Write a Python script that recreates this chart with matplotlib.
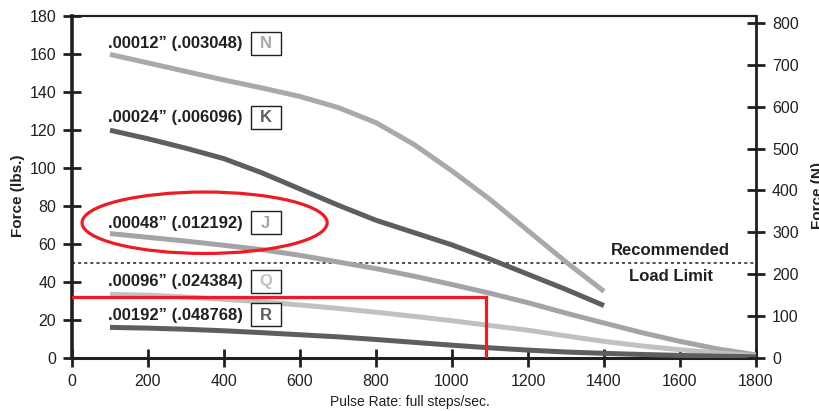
import matplotlib.pyplot as plt
from matplotlib.patches import Ellipse, Rectangle

plt.rcParams['font.family'] = ['Liberation Sans', 'DejaVu Sans']

# pulse rate (full steps/sec) and force (lbs) per step size
x_short = [100, 200, 300, 400, 500, 600, 700, 800, 900, 1000, 1100, 1200, 1300, 1400]
x_long = x_short + [1500, 1600, 1700, 1800]

force_n = [160, 155.5, 151, 146.5, 142.3, 137.8, 132, 124, 112.5, 98.5, 83.5, 67, 50.5, 35]
force_k = [120, 115.5, 110.5, 105, 97.5, 89, 80.5, 72.5, 66, 59.5, 52, 44, 36, 27.5]
force_j = [65.5, 63.5, 61.5, 59.3, 57, 54, 50.5, 47, 43, 38.6, 34, 29, 23.5, 18.3, 13.2, 8.6, 4.6, 1.5]
force_q = [33.4, 33, 32, 30.8, 29.5, 27.8, 26, 24, 21.8, 19.5, 17, 14.5, 11.5, 8.6, 6.2, 4.2, 2.5, 1]
force_r = [16, 15.6, 15, 14.2, 13.2, 12.1, 11, 9.6, 8.1, 6.6, 5.2, 4, 3, 2.3, 1.7, 1.2, 0.8, 0.5]

step_labels = ['.00012\u201d (.003048)', '.00024\u201d (.006096)', '.00048\u201d (.012192)',
               '.00096\u201d (.024384)', '.00192\u201d (.048768)']
step_letters = ['N', 'K', 'J', 'Q', 'R']
label_y = [165.5, 126.5, 71, 40, 22.5]

load_limit = 50
op_rate = 1090
op_force = 32

ink = '#231f20'
red = '#ed1c24'
colors = ['#a7a9ac', '#5d5e60', '#a2a4a7', '#bfc1c3', '#5d5e60']

fig = plt.figure(figsize=(8.2, 4.11), dpi=100)
ax = fig.add_axes([72 / 820, (411 - 357.7) / 411, 684 / 820, (357.7 - 16.5) / 411])

series = [(x_short, force_n), (x_short, force_k), (x_long, force_j), (x_long, force_q), (x_long, force_r)]
for (xs, ys), c in zip(series, colors):
    ax.plot(xs, ys, color=c, lw=3.6, solid_capstyle='butt', solid_joinstyle='round', zorder=3)

# box size in data units (about 31 x 23 px)
box_w, box_h = 80, 12
for txt, letter, y, c in zip(step_labels, step_letters, label_y, colors):
    ax.text(95, y, txt, fontsize=12, fontweight='bold', color=ink, ha='left', va='center', zorder=5)
    ax.add_patch(Rectangle((510 - box_w / 2, y - box_h / 2 + 0.3), box_w, box_h,
                           fc='white', ec=ink, lw=1, zorder=4))
    ax.text(510, y, letter, fontsize=12, fontweight='bold', color=c, ha='center', va='center', zorder=5)

ax.axhline(load_limit, color=ink, lw=1.1, ls=(0, (2, 2)), zorder=2)
ax.text(1574, 56.3, 'Recommended', fontsize=12, fontweight='bold', color=ink, ha='center', va='center')
ax.text(1577, 43, 'Load Limit', fontsize=12, fontweight='bold', color=ink, ha='center', va='center')

ax.plot([0, op_rate], [op_force, op_force], color=red, lw=2.3, zorder=6)
ax.plot([op_rate, op_rate], [0, op_force], color=red, lw=2.3, zorder=6)
ax.add_patch(Ellipse((349, 71.2), 645, 32.4, fill=False, ec=red, lw=2.3, zorder=6))

ax.set_xlim(0, 1800)
ax.set_ylim(0, 180)
ax.set_xticks(range(0, 1801, 200))
ax.set_yticks(range(0, 181, 20))
ax.tick_params(direction='inout', length=13, width=2, color=ink, labelsize=11.5, labelcolor=ink, pad=5)
ax.spines['left'].set_linewidth(2.6)
ax.spines['bottom'].set_linewidth(2.2)
ax.spines['top'].set_linewidth(1.6)
ax.spines['right'].set_linewidth(2.0)
for s in ax.spines.values():
    s.set_color(ink)

ax2 = ax.twinx()
ax2.set_ylim(0, 816)
ax2.set_yticks(range(0, 801, 100))
ax2.tick_params(direction='inout', length=13, width=2, color=ink, labelsize=11.5, labelcolor=ink, pad=5)
for s in ax2.spines.values():
    s.set_visible(False)

fig.text(18.5 / 820, 1 - 196 / 411, 'Force (lbs.)', rotation=90, fontsize=11, fontweight='bold',
         color=ink, ha='center', va='center')
fig.text(811 / 820, 1 - 195 / 411, 'Force (N)', rotation=90, fontsize=11, fontweight='bold',
         color=ink, ha='left', va='center')
fig.text(410 / 820, 1 - 401.7 / 411, 'Pulse Rate: full steps/sec.', fontsize=10, color=ink,
         ha='center', va='center')

fig.savefig('out.png', dpi=100)
